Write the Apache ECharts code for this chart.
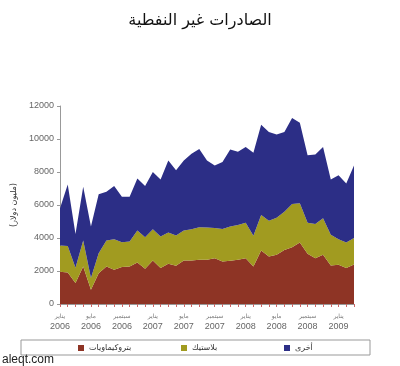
<!DOCTYPE html>
<html><head><meta charset="utf-8">
<script src="https://cdn.jsdelivr.net/npm/echarts@6/dist/echarts.min.js"></script>
<style>html,body{margin:0;padding:0;background:#fff}#c{width:400px;height:366px}</style>
</head><body><div id="c"></div>
<script>
var monthNames = ['يناير','فبراير','مارس','أبريل','مايو','يونيو','يوليو','أغسطس','سبتمبر','أكتوبر','نوفمبر','ديسمبر'];
var categories = [];
for (var y = 2006; y <= 2009; y++) { for (var m = 0; m < 12; m++) { if (y === 2009 && m > 2) break; categories.push(monthNames[m] + '|' + y); } }
var petro   = [1950,1910,1270,2280,870,1870,2280,2070,2240,2280,2520,2140,2640,2180,2440,2320,2640,2640,2680,2680,2780,2580,2620,2680,2780,2280,3240,2880,2980,3280,3440,3730,3040,2780,2980,2340,2380,2180,2400];
var plastic = [1600,1610,930,1570,700,1210,1570,1850,1510,1510,1930,1910,1890,1910,1890,1830,1810,1890,1970,1950,1820,1970,2070,2110,2150,1850,2160,2170,2250,2310,2620,2370,1890,2070,2210,1850,1550,1540,1600];
var other   = [2250,3730,2050,3250,3130,3570,2950,3230,2750,2710,3150,3100,3470,3460,4370,3950,4250,4570,4750,4070,3800,4050,4670,4430,4590,5030,5470,5380,5040,4840,5210,4890,4090,4210,4330,3360,3880,3580,4400];
var seriesNames = ['بتروكيماويات','بلاستيك','أخرى'];
var colors = ['#8E3425','#A19B20','#2C2E86'];
var yTicks = {min:0, max:12000, interval:2000};

var chart = echarts.init(document.getElementById('c'));
var vals = [petro, plastic, other];
chart.setOption({
  animation:false,
  title:{text:'الصادرات غير النفطية', left:'center', top:8,
    textStyle:{fontFamily:'DejaVu Sans', fontSize:16, fontWeight:'normal', color:'#111'}},
  grid:{left:60, right:46, top:106, bottom:62},
  legend:[0,1,2].map(function(i){
    return {data:[seriesNames[i]], left:[78,181,284][i], top:344, itemWidth:6, itemHeight:6, icon:'rect', itemGap:4,
      textStyle:{fontFamily:'DejaVu Sans', fontSize:8, color:'#333'}, padding:0};
  }),
  xAxis:{type:'category', data:categories, boundaryGap:false,
    axisLine:{lineStyle:{color:'#999'}},
    axisTick:{show:true, interval:0, length:3, lineStyle:{color:'#c66'}},
    axisLabel:{interval:3, margin:8, formatter:function(v){var p=v.split('|');return '{m|'+p[0]+'}\n{y|'+p[1]+'}';},
      rich:{m:{fontFamily:'DejaVu Sans', fontSize:6, color:'#777', lineHeight:9}, y:{fontFamily:'Liberation Sans', fontSize:9, color:'#666', lineHeight:11}}}
  },
  yAxis:{type:'value', min:yTicks.min, max:yTicks.max, interval:yTicks.interval,
    name:'(مليون دولار)', nameLocation:'middle', nameGap:34, nameRotate:90,
    nameTextStyle:{fontFamily:'DejaVu Sans', fontSize:8, color:'#333'},
    axisLine:{show:true, lineStyle:{color:'#999'}},
    axisTick:{show:true, length:3, lineStyle:{color:'#999'}},
    splitLine:{show:false},
    axisLabel:{fontFamily:'Liberation Sans', fontSize:9, color:'#666', margin:6, formatter:function(v){return String(v);}}
  },
  graphic:[
    {type:'rect', shape:{x:21, y:340, width:349, height:15}, style:{fill:'none', stroke:'#999', lineWidth:1}},
    {type:'text', left:2, top:354, style:{text:'aleqt.com', font:'12px "Liberation Sans"', fill:'#222'}}
  ],
  series:[0,1,2].map(function(i){
    return {name:seriesNames[i], type:'line', stack:'t', data:vals[i], symbol:'none',
      lineStyle:{width:0}, areaStyle:{color:colors[i], opacity:1}, itemStyle:{color:colors[i]}};
  })
});
</script></body></html>
